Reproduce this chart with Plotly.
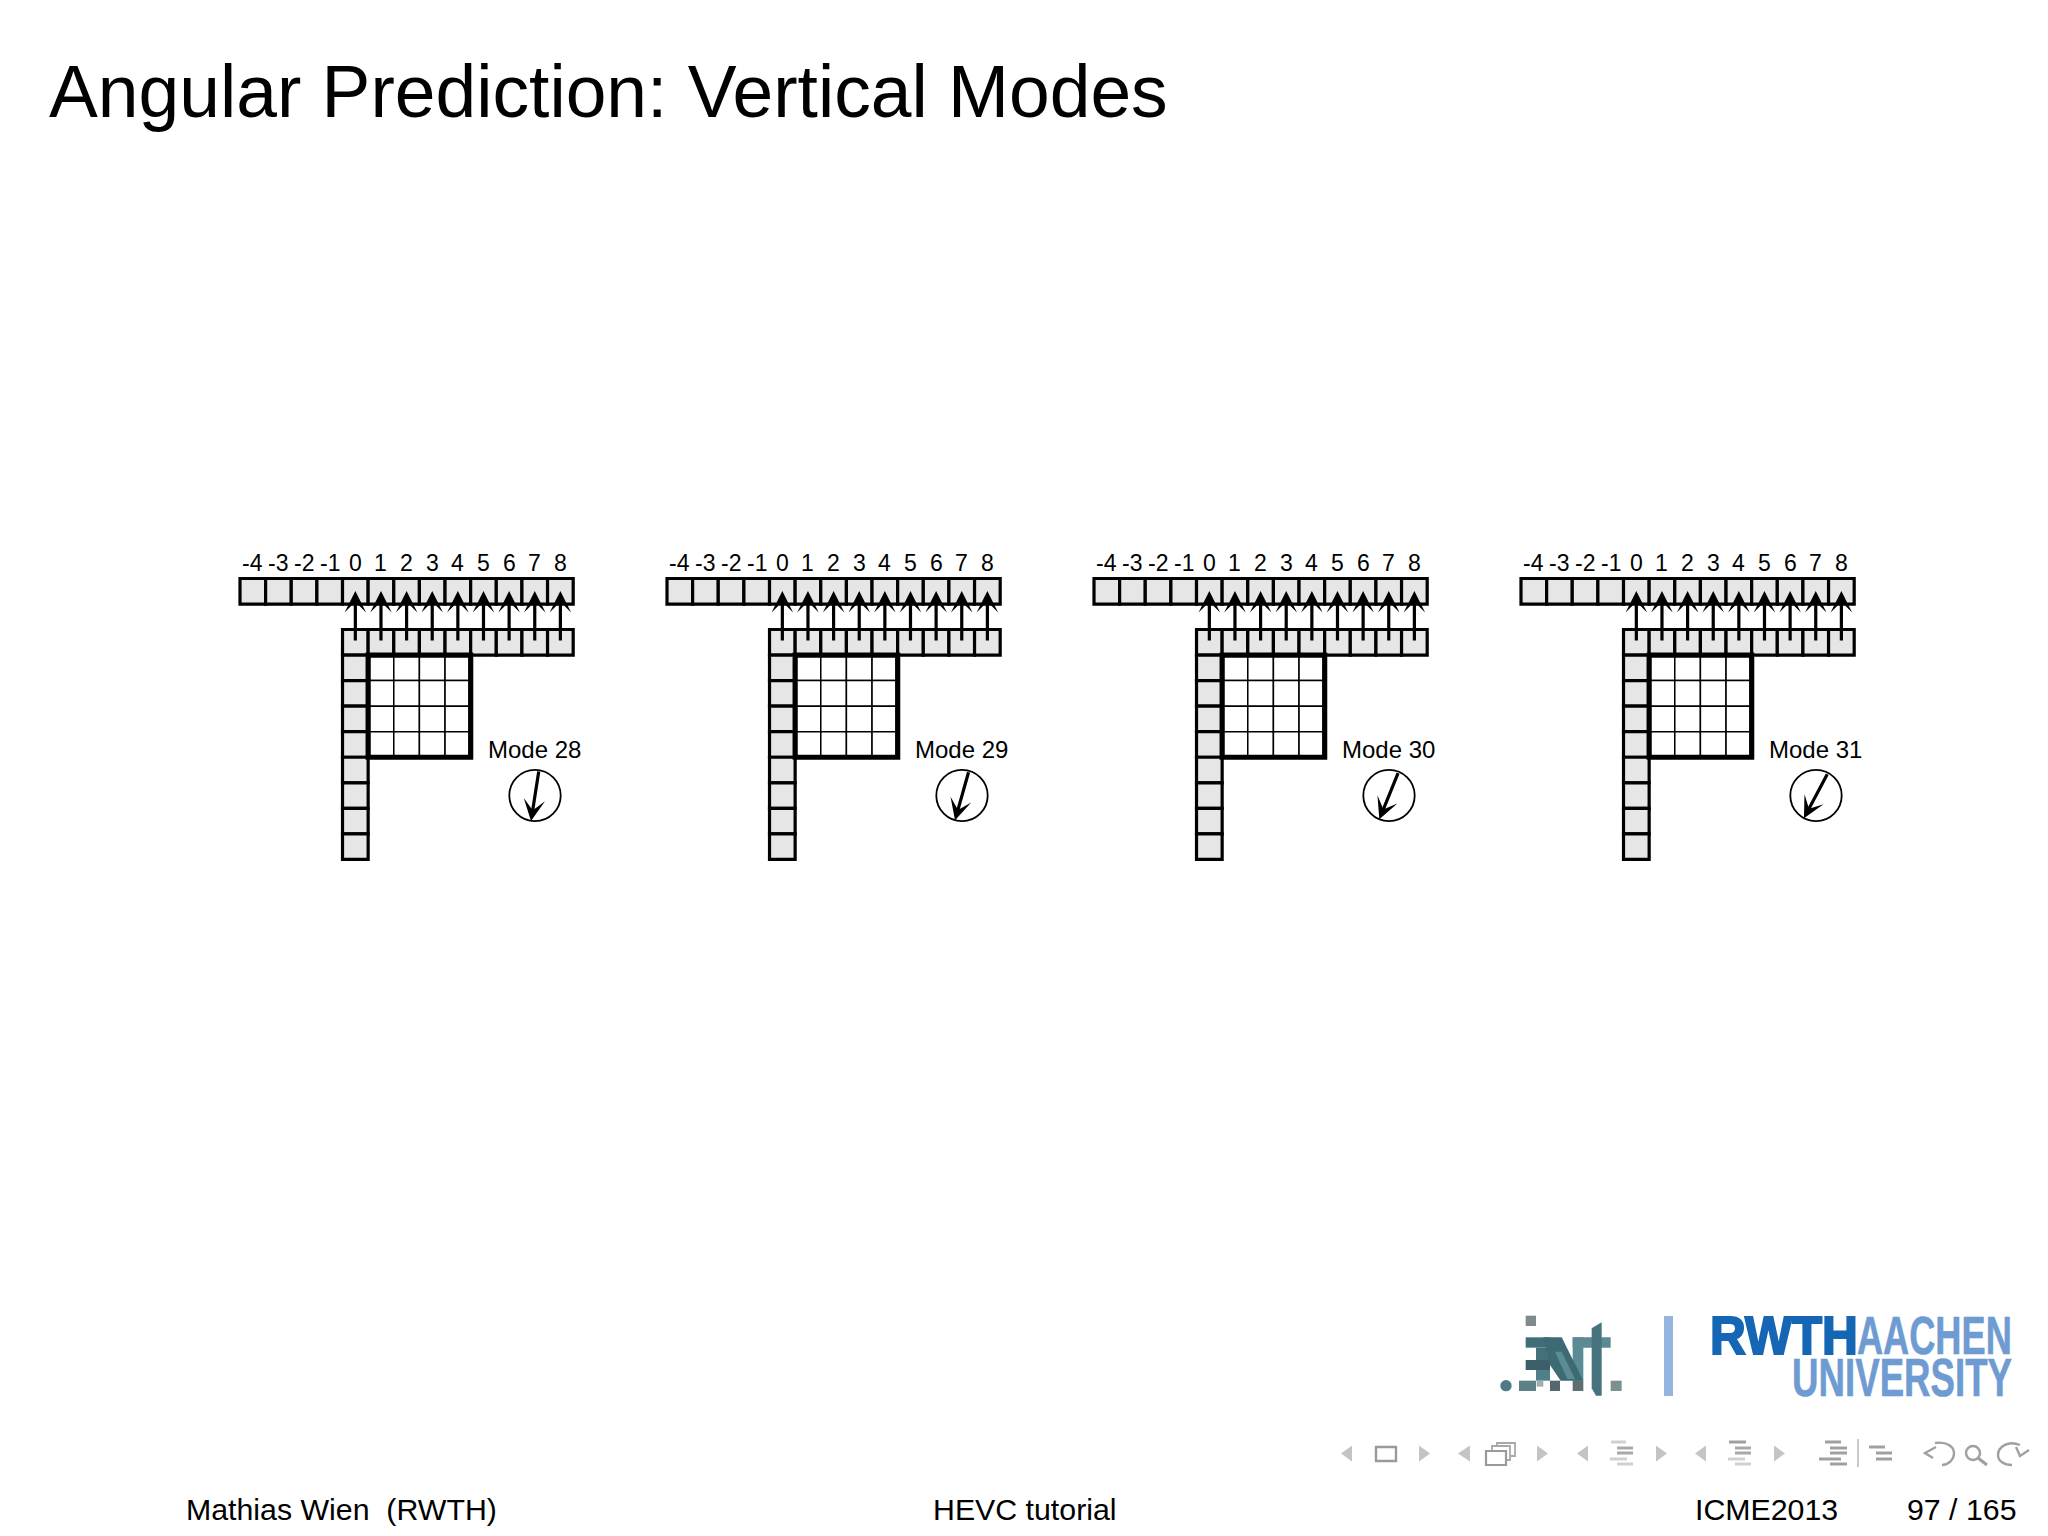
import math
import plotly.graph_objects as go

# Slide content
TITLE = "Angular Prediction: Vertical Modes"
FOOTER_LEFT = "Mathias Wien  (RWTH)"
FOOTER_MID = "HEVC tutorial"
FOOTER_RIGHT = "ICME2013"
PAGE = "97 / 165"

MODES = [28, 29, 30, 31]
MODE_ANGLES = [5, 9, 13, 17]  # arrow displacement out of 32
TOP_LABELS = [-4, -3, -2, -1, 0, 1, 2, 3, 4, 5, 6, 7, 8]
ARROW_LABELS = [0, 1, 2, 3, 4, 5, 6, 7, 8]
BLOCK_CELLS = [0, 1, 2, 3]
LEFT_CELLS = [0, 1, 2, 3, 4, 5, 6, 7]

# Geometry in page pixels
PANEL_X = 240.0
PANEL_STEP = 427.0
CELL = 25.63
CELL_Y = 25.55
ROW1_Y = 578.5
ROW2_Y = 629.5
GREY = "#e6e6e6"
FONT = "Liberation Sans"

shapes = []
annotations = []


def rect(x0, y0, x1, y1, fill=None, width=0, color="black"):
    shapes.append(dict(type="rect", xref="x", yref="y", x0=x0, y0=y0, x1=x1, y1=y1,
                       fillcolor=fill if fill else "rgba(0,0,0,0)",
                       line=dict(width=width, color=color)))


def path(d, fill=None, width=0, color="black"):
    shapes.append(dict(type="path", xref="x", yref="y", path=d,
                       fillcolor=fill if fill else "rgba(0,0,0,0)",
                       line=dict(width=width, color=color)))


def text(x, y, s, size, color="black", anchor="center", weight=None):
    annotations.append(dict(x=x, y=y, xref="x", yref="y", text=s, showarrow=False,
                            xanchor=anchor, yanchor="middle", borderpad=0,
                            font=dict(family=FONT, size=size, color=color, weight=weight)))


def arrow(x0, y0, x1, y1, width=3.2, size=1.12):
    annotations.append(dict(x=x1, y=y1, ax=x0, ay=y0, xref="x", yref="y", axref="x", ayref="y",
                            text="", showarrow=True, arrowhead=3, arrowsize=size,
                            arrowwidth=width, arrowcolor="black"))


def triangle(x0, x1, left):
    tip, base = (x0, x1) if left else (x1, x0)
    path(f"M{base},1445.5 L{tip},1453.5 L{base},1461.5 Z", fill="#c4c4c4")


def bars(rows, color):
    for (x0, x1, y), shade in zip(rows, color):
        rect(x0, y - 1.5, x1, y + 1.5, fill=shade)


# The four mode panels
for p, (mode, angle) in enumerate(zip(MODES, MODE_ANGLES)):
    x0 = PANEL_X + p * PANEL_STEP
    col0 = x0 + 4 * CELL

    for i, lab in enumerate(TOP_LABELS):
        cx = x0 + i * CELL
        rect(cx, ROW1_Y, cx + CELL, ROW1_Y + CELL_Y, fill=GREY, width=3.2)
        text(cx + CELL / 2, 563, str(lab), 23)

    for i, lab in enumerate(ARROW_LABELS):
        cx = col0 + i * CELL
        rect(cx, ROW2_Y, cx + CELL, ROW2_Y + CELL_Y, fill=GREY, width=3.2)

    block_y = ROW2_Y + CELL_Y
    for i in LEFT_CELLS:
        rect(col0, block_y + i * CELL_Y, col0 + CELL, block_y + (i + 1) * CELL_Y, fill=GREY, width=3.2)

    block_x = col0 + CELL
    for i in BLOCK_CELLS:
        for j in BLOCK_CELLS:
            rect(block_x + i * CELL, block_y + j * CELL_Y, block_x + (i + 1) * CELL,
                 block_y + (j + 1) * CELL_Y, fill="white", width=1.5)
    rect(block_x, block_y, block_x + 4 * CELL, block_y + 4 * CELL_Y, width=5.2)

    for lab in ARROW_LABELS:
        ax = col0 + (lab + 0.5) * CELL
        arrow(ax, 642, ax, 591)

    # direction dial
    cx = x0 + 295
    cy = 795.5
    r = 25.7
    shapes.append(dict(type="circle", xref="x", yref="y", x0=cx - r, y0=cy - r, x1=cx + r, y1=cy + r,
                       line=dict(width=1.8, color="black")))
    norm = math.hypot(angle, 32)
    dx, dy = r * angle / norm, r * 32 / norm
    arrow(cx + dx, cy - dy, cx - dx, cy + dy)
    text(cx - 0.5, 749, f"Mode {mode}", 24)

# Title and footer
text(48, 92, TITLE, 73.2, anchor="left")
text(185, 1509, FOOTER_LEFT, 30.3, anchor="left")
text(932, 1509, FOOTER_MID, 30.3, anchor="left")
text(1693.5, 1509, FOOTER_RIGHT, 30.3, anchor="left")
text(1906, 1509, PAGE, 30.3, anchor="left")

# .ENT. logo, coordinates measured on a 3x crop
lx, ly = 1490, 1305


def lx3(v):
    return lx + v / 3


def ly3(v):
    return ly + v / 3


def lrect(a, b, c, d, fill):
    rect(lx3(a), ly3(b), lx3(c), ly3(d), fill=fill)


def lpoly(points, fill):
    d = "M" + " L".join(f"{lx3(a)},{ly3(b)}" for a, b in points) + " Z"
    path(d, fill=fill)


shapes.append(dict(type="circle", xref="x", yref="y", x0=lx3(31), y0=ly3(225), x1=lx3(65),
                   y1=ly3(259), fillcolor="#4c7a86", line=dict(width=0)))
lrect(107, 32, 138, 63, "#7d8b8d")
lrect(107, 97, 180, 128, "#3f6e78")
lrect(138, 128, 180, 165, "#44707a")
lrect(107, 165, 180, 195, "#3a5f66")
lrect(138, 195, 180, 227, "#4f7f88")
lrect(87, 227, 138, 258, "#5c8288")
lrect(140, 227, 160, 245, "#9fb0b2")
lrect(180, 227, 210, 258, "#56686b")
lrect(248, 227, 280, 258, "#5f6e70")
lrect(362, 227, 395, 258, "#7e8f8f")
lrect(248, 97, 280, 227, "#5a8c96")
lrect(248, 97, 362, 128, "#5b8a92")
lpoly([(160, 97), (215, 97), (280, 227), (212, 227), (180, 180)], "#3d6a73")
lpoly([(195, 140), (215, 140), (255, 222), (232, 222)], "#5c8d96")
lpoly([(305, 70), (335, 52), (335, 272), (318, 272), (305, 250)], "#46737d")

# separator and RWTH wordmark
rect(1664, 1316, 1673, 1396, fill="#95b5de")
text(1784, 1335, "RWTH", 53, color="#1566b5", weight="bold")
text(1934.5, 1335, "AACHEN", 53, color="#6e9bd1", weight="bold")
text(1902, 1377, "UNIVERSITY", 53, color="#6e9bd1", weight="bold")

# beamer navigation symbols
for a, b, left in [(1341, 1352, True), (1419, 1430, False), (1458, 1470, True), (1537, 1548, False),
                   (1577, 1588, True), (1656, 1667, False), (1695, 1706, True), (1774, 1785, False)]:
    triangle(a, b, left)
rect(1376, 1447, 1396, 1461, width=2.4, color="#9a9a9a")
rect(1497, 1443, 1515, 1456, fill="white", width=1.8, color="#a8a8a8")
rect(1492, 1446, 1510, 1460, fill="white", width=1.8, color="#a8a8a8")
rect(1486, 1451, 1506, 1465, fill="white", width=2.2, color="#9a9a9a")
light = ["#d0d0d0", "#a8a8a8", "#a8a8a8", "#d0d0d0", "#d0d0d0"]
bars([(1611, 1626, 1442), (1617, 1633, 1448), (1617, 1633, 1453), (1610, 1627, 1459), (1617, 1633, 1464)], light)
mid = ["#a0a0a0", "#a8a8a8", "#a8a8a8", "#d0d0d0", "#d0d0d0"]
bars([(1729, 1746, 1442), (1735, 1751, 1448), (1735, 1751, 1453), (1728, 1745, 1459), (1735, 1751, 1464)], mid)
dark = ["#a0a0a0"] * 5
bars([(1825, 1841, 1442), (1830, 1847, 1448), (1830, 1847, 1453), (1819, 1841, 1459), (1830, 1847, 1464)], dark)
rect(1857, 1439, 1859, 1467, fill="#c8c8c8")
bars([(1869, 1885, 1447), (1876, 1892, 1453), (1876, 1892, 1459)], dark)
# undo, search, redo
path("M1935,1443 C1947,1441 1954,1447 1954,1453 C1954,1460 1948,1465 1942,1465", width=2.4, color="#a0a0a0")
path("M1936,1447 L1925,1453 L1933,1458", width=2.4, color="#a0a0a0")
shapes.append(dict(type="circle", xref="x", yref="y", x0=1966, y0=1446, x1=1980, y1=1460,
                   line=dict(width=2.4, color="#a0a0a0")))
path("M1978,1458 L1987,1465", width=3, color="#a0a0a0")
path("M2020,1445 C2008,1440 1998,1447 1998,1455 C1998,1461 2004,1465 2012,1465", width=2.4, color="#a0a0a0")
path("M2016,1447 L2020,1456 L2029,1450", width=2.4, color="#a0a0a0")

fig = go.Figure()
fig.add_trace(go.Scatter(x=[0, 2048], y=[0, 1536], mode="markers", marker=dict(opacity=0), hoverinfo="skip"))
fig.update_layout(
    width=2048, height=1536, margin=dict(l=0, r=0, t=0, b=0),
    paper_bgcolor="white", plot_bgcolor="white", showlegend=False,
    xaxis=dict(range=[0, 2048], visible=False, fixedrange=True),
    yaxis=dict(range=[1536, 0], visible=False, fixedrange=True),
    shapes=shapes, annotations=annotations,
)

# the wordmark is squeezed horizontally around the middle of each word
SQUEEZE = """
document.body.style.margin = '0';
var widths = {'RWTH': 148, 'AACHEN': 155, 'UNIVERSITY': 220};
var heavy = {'RWTH': '2px', 'AACHEN': '0.6px', 'UNIVERSITY': '0.6px'};
document.querySelectorAll('.annotation-text').forEach(function (t) {
    var w = widths[t.textContent];
    if (w) {
        var b = t.getBBox();
        var c = b.x + b.width / 2;
        t.setAttribute('transform', 'translate(' + c + ',0) scale(' + (w / b.width) + ',1) translate(' + (-c) + ',0)');
        t.style.stroke = t.style.fill;
        t.style.strokeWidth = heavy[t.textContent];
    }
});
"""
fig.write_html("out.html", config={"displayModeBar": False}, post_script=SQUEEZE)
